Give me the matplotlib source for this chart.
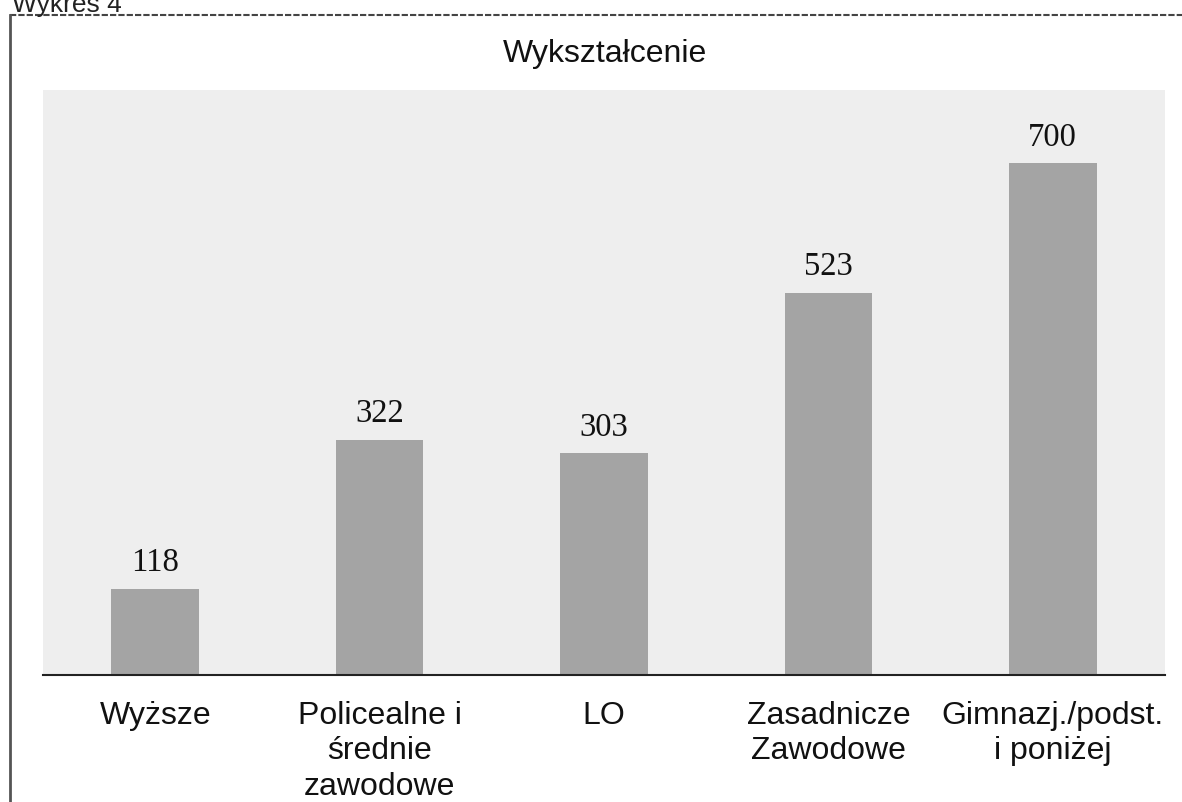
import matplotlib
matplotlib.use("Agg")
import matplotlib.pyplot as plt
from matplotlib.lines import Line2D

categories = ["Wyższe", "Policealne i\nśrednie\nzawodowe", "LO", "Zasadnicze\nZawodowe", "Gimnazj./podst.\ni poniżej"]
values = [118, 322, 303, 523, 700]
title = "Wykształcenie"
caption = "Wykres 4"

fig = plt.figure(figsize=(11.82, 8.02), dpi=100)
fig.patch.set_facecolor("white")

W, H = 1182, 802
ax = fig.add_axes([43 / W, 127 / H, (1165 - 43) / W, (675 - 90) / H])
ax.set_facecolor("#eeeeee")

x = list(range(len(categories)))
bars = ax.bar(x, values, width=0.39, color="#a4a4a4", zorder=2)
ax.set_xlim(-0.5, len(categories) - 0.5)
ax.set_ylim(0, 800)

for rect, v in zip(bars, values):
    ax.annotate(str(v), (rect.get_x() + rect.get_width() / 2, v),
                xytext=(0, 7.5), textcoords="offset points",
                ha="center", va="bottom", fontsize=23.5,
                family="Liberation Serif", color="#111111")

ax.set_xticks(x)
ax.set_xticklabels(categories, fontsize=23, family="Liberation Sans",
                   linespacing=1.22, color="#111111")
ax.tick_params(axis="x", length=0, pad=19)
ax.set_yticks([])
for s in ["top", "left", "right"]:
    ax.spines[s].set_visible(False)
ax.spines["bottom"].set_color("#222222")
ax.spines["bottom"].set_linewidth(1.5)

fig.text(605 / W, 1 - 62 / H, title, ha="center", va="baseline",
         fontsize=23, family="Liberation Sans", color="#111111")

fig.text(12 / W, 1 - 12 / H, caption, ha="left", va="baseline",
         fontsize=19, family="Liberation Sans", color="#222222")

fig.add_artist(Line2D([10 / W, 1.0], [1 - 15 / H, 1 - 15 / H],
                      transform=fig.transFigure, color="#444444",
                      lw=1.5, linestyle=(0, (3, 1))))
fig.add_artist(Line2D([10 / W, 10 / W], [1 - 15 / H, 0.0],
                      transform=fig.transFigure, color="#555555", lw=2))

fig.savefig("out.png", dpi=100, facecolor="white")
